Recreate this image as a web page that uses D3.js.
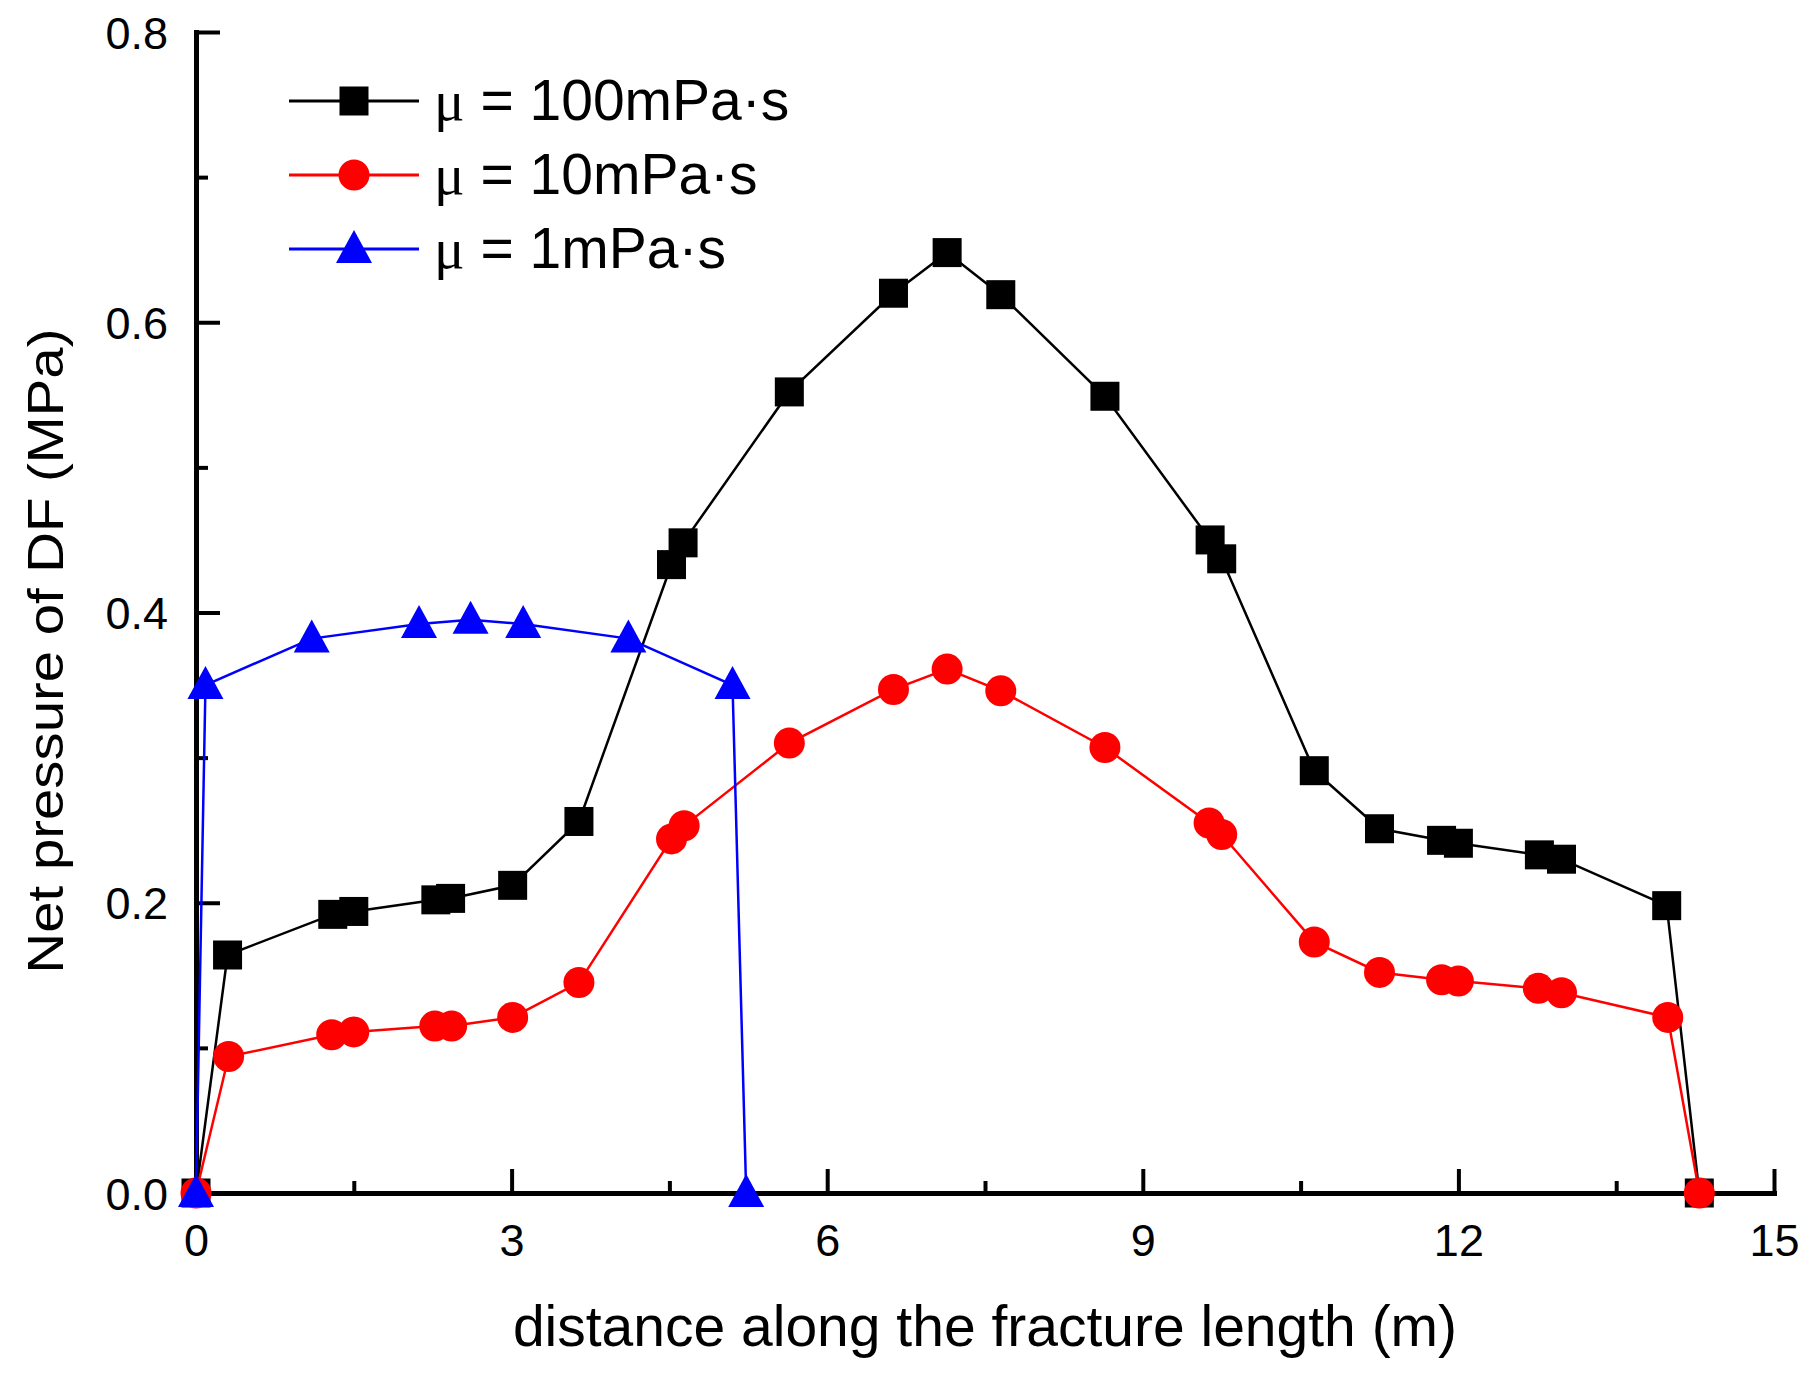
<!DOCTYPE html>
<html>
<head>
<meta charset="utf-8">
<script src="https://cdn.jsdelivr.net/npm/d3@7"></script>
<style>
  body { margin: 0; background: #fff; }
  text { font-family: 'Liberation Sans', Arial, sans-serif; fill: #000; }
</style>
</head>
<body>
<div id="chart"></div>
<script>
// distance along the fracture (m)
const xBlack = [0, 0.30, 1.30, 1.50, 2.28, 2.42, 3.01, 3.64, 4.52, 4.63, 5.64, 6.63, 7.14, 7.65, 8.64, 9.64, 9.75, 10.63, 11.25, 11.84, 12.0, 12.77, 12.98, 13.98, 14.29];
const yBlack = [0, 0.164, 0.192, 0.194, 0.202, 0.203, 0.212, 0.256, 0.433, 0.448, 0.552, 0.620, 0.648, 0.619, 0.549, 0.450, 0.437, 0.291, 0.251, 0.243, 0.241, 0.233, 0.230, 0.198, 0];
const xRed = [0, 0.31, 1.29, 1.50, 2.27, 2.43, 3.01, 3.64, 4.52, 4.64, 5.64, 6.63, 7.14, 7.65, 8.64, 9.63, 9.75, 10.63, 11.25, 11.84, 12.0, 12.76, 12.98, 13.99, 14.29];
const yRed = [0, 0.094, 0.109, 0.111, 0.115, 0.115, 0.121, 0.145, 0.244, 0.253, 0.310, 0.347, 0.361, 0.346, 0.307, 0.255, 0.247, 0.173, 0.152, 0.147, 0.146, 0.141, 0.138, 0.121, 0];
const xBlue = [0, 0.09, 1.10, 2.12, 2.61, 3.11, 4.11, 5.10, 5.23];
const yBlue = [0, 0.350, 0.382, 0.392, 0.395, 0.392, 0.382, 0.350, 0];

const seriesNames = ['100mPa·s', '10mPa·s', '1mPa·s'];
const seriesColors = ['#000000', '#ff0000', '#0000ff'];
const seriesSymbols = ['square', 'circle', 'triangle'];

const xMajorTicks = [0, 3, 6, 9, 12, 15];
const xMinorTicks = [1.5, 4.5, 7.5, 10.5, 13.5];
const yMajorTicks = [0, 0.2, 0.4, 0.6, 0.8];
const yMinorTicks = [0.1, 0.3, 0.5, 0.7];

const WIDTH = 1814;
const HEIGHT = 1380;
const PLOT = { LEFT: 196, RIGHT: 1774, TOP: 32, BOTTOM: 1193 };

const svg = d3.select('#chart').append('svg').attr('width', WIDTH).attr('height', HEIGHT);

const xScale = d3.scaleLinear().domain([0, 15]).range([PLOT.LEFT, PLOT.RIGHT]);
const yScale = d3.scaleLinear().domain([0, 0.8]).range([PLOT.BOTTOM, PLOT.TOP]);

const series = [
  { xs: xBlack, ys: yBlack },
  { xs: xRed, ys: yRed },
  { xs: xBlue, ys: yBlue },
].map((s, i) => ({
  name: seriesNames[i],
  color: seriesColors[i],
  symbol: seriesSymbols[i],
  points: s.xs.map((x, j) => ({ x: x, y: s.ys[j] })),
}));

function drawSymbol(g, symbol, color) {
  if (symbol === 'square') {
    g.append('rect').attr('x', -14.5).attr('y', -14.5).attr('width', 29).attr('height', 29).attr('fill', color);
  } else if (symbol === 'circle') {
    g.append('circle').attr('r', 15.5).attr('fill', color);
  } else {
    g.append('path').attr('d', 'M0,-19L18,14L-18,14Z').attr('fill', color);
  }
}

// axes (ticks point inward)
const styleAxis = (g, width) => {
  g.selectAll('.domain').attr('stroke', '#000').attr('stroke-width', 5).attr('stroke-linecap', 'square');
  g.selectAll('.tick line').attr('stroke', '#000').attr('stroke-width', width);
  g.selectAll('.tick text').attr('font-size', 45).attr('font-family', "'Liberation Sans', Arial, sans-serif").attr('fill', '#000');
};

svg
  .append('g')
  .attr('transform', 'translate(0,' + PLOT.BOTTOM + ')')
  .call(d3.axisBottom(xScale).tickValues(xMinorTicks).tickSizeInner(-12).tickSizeOuter(0).tickFormat(() => ''))
  .call((g) => styleAxis(g, 4));

svg
  .append('g')
  .attr('transform', 'translate(0,' + PLOT.BOTTOM + ')')
  .call(d3.axisBottom(xScale).tickValues(xMajorTicks).tickSizeInner(-24).tickSizeOuter(0).tickPadding(0).tickFormat(d3.format('d')))
  .call((g) => styleAxis(g, 4))
  .call((g) => g.selectAll('.tick text').attr('y', 0).attr('dy', null).attr('transform', 'translate(0,63)'));

svg
  .append('g')
  .attr('transform', 'translate(' + PLOT.LEFT + ',0)')
  .call(d3.axisLeft(yScale).tickValues(yMinorTicks).tickSizeInner(-12).tickSizeOuter(0).tickFormat(() => ''))
  .call((g) => styleAxis(g, 4));

svg
  .append('g')
  .attr('transform', 'translate(' + PLOT.LEFT + ',0)')
  .call(d3.axisLeft(yScale).tickValues(yMajorTicks).tickSizeInner(-24).tickSizeOuter(0).tickFormat(d3.format('.1f')))
  .call((g) => styleAxis(g, 4))
  .call((g) => g.selectAll('.tick text').attr('x', -28).attr('dy', '0.36em'));

// axis titles
svg
  .append('text')
  .attr('transform', 'translate(985,1346)')
  .attr('text-anchor', 'middle')
  .attr('font-size', 57)
  .text('distance along the fracture length (m)');

svg
  .append('text')
  .attr('transform', 'translate(63,651) rotate(-90) scale(1.127,1)')
  .attr('text-anchor', 'middle')
  .attr('font-size', 50)
  .text('Net pressure of DF (MPa)');

// series
series.forEach((s) => {
  svg
    .append('path')
    .datum(s.points)
    .attr('fill', 'none')
    .attr('stroke', s.color)
    .attr('stroke-width', 2.5)
    .attr('d', d3.line().x((d) => xScale(d.x)).y((d) => yScale(d.y)));

  s.points.forEach((p) => {
    const g = svg.append('g').attr('transform', 'translate(' + xScale(p.x) + ',' + yScale(p.y) + ')');
    drawSymbol(g, s.symbol, s.color);
  });
});

// legend
const legendRowY = [101, 175, 249];
series.forEach((s, i) => {
  const row = svg.append('g').attr('transform', 'translate(0,' + legendRowY[i] + ')');
  row.append('line').attr('x1', 289).attr('x2', 419).attr('y1', 0).attr('y2', 0).attr('stroke', s.color).attr('stroke-width', 3);
  drawSymbol(row.append('g').attr('transform', 'translate(354,0)'), s.symbol, s.color);
  const label = row
    .append('text')
    .attr('transform', 'translate(434,19)')
    .attr('font-size', 57);
  label.append('tspan').attr('font-family', "'Liberation Serif', 'Times New Roman', serif").text('μ');
  label.append('tspan').text(' = ' + s.name);
});
</script>
</body>
</html>
